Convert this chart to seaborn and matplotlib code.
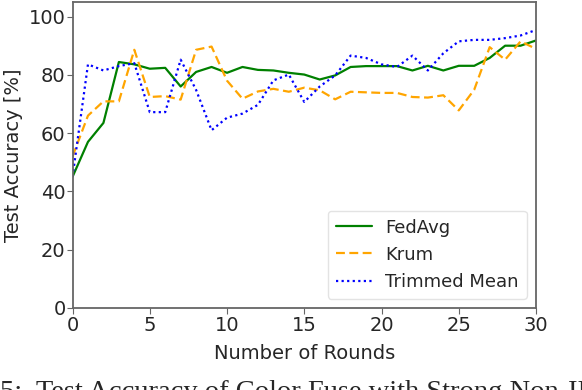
import numpy as np
import pandas as pd
import seaborn as sns
from matplotlib import pyplot as plt

rounds = list(range(31))
fedavg = [45, 57, 63.5, 84.4, 83.6, 82.1, 82.4, 76, 81, 82.7, 80.7, 82.7, 81.7,
          81.5, 80.7, 80.1, 78.4, 79.8, 82.7, 83, 83, 83, 81.5, 83.1, 81.5, 83.1,
          83.1, 85.8, 90, 90, 91.8]
krum = [52, 66, 70.9, 70.9, 88.6, 72.4, 72.7, 71.5, 88.6, 89.7, 78, 71.8, 74.3,
        75.2, 74.2, 75.6, 74.7, 71.6, 74.2, 74, 73.8, 73.8, 72.4, 72.2, 73, 67.8,
        74.9, 89.5, 85.2, 91.5, 88.9]
trimmed = [45, 83.6, 81.5, 83, 84, 67.2, 67.2, 85.2, 74.8, 61, 65.3, 66.7, 69.7,
           78.1, 80.1, 70.7, 76, 79.8, 86.6, 85.8, 83.6, 82.7, 86.6, 81.5, 87.4,
           91.5, 92, 92, 92.6, 93.5, 95.4]
series_names = ['FedAvg', 'Krum', 'Trimmed Mean']

df = pd.DataFrame({
    'round': rounds * 3,
    'acc': fedavg + krum + trimmed,
    'method': [n for n in series_names for _ in rounds],
})

sns.set_style('white')
plt.rcParams['font.family'] = ['DejaVu Sans']

fig = plt.figure(figsize=(5.82, 3.90), dpi=100)
ax = fig.add_axes([0.1246, 0.2103, 0.7964, 0.7846])

palette = {'FedAvg': 'green', 'Krum': 'orange', 'Trimmed Mean': 'blue'}
dashes = {'FedAvg': '', 'Krum': (4, 2), 'Trimmed Mean': (1, 1.5)}
sns.lineplot(data=df, x='round', y='acc', hue='method', style='method',
             palette=palette, dashes=dashes, linewidth=1.6, ax=ax)

ax.set_xlim(0, 30)
ax.set_ylim(0, 105)
ax.set_xticks([0, 5, 10, 15, 20, 25, 30])
ax.set_yticks([0, 20, 40, 60, 80, 100])
ax.tick_params(labelsize=14, length=4, color='#666666', direction='out',
               bottom=True, left=True)
ax.tick_params(axis='x', pad=2)
ax.tick_params(axis='y', pad=1)
for s in ax.spines.values():
    s.set_color('#666666')
    s.set_linewidth(1.3)
ax.set_xlabel('Number of Rounds', fontsize=14, labelpad=6)
ax.set_ylabel('Test Accuracy [%]', fontsize=14, labelpad=4)

leg = ax.legend(loc='lower right', fontsize=13, handlelength=2.0,
                handletextpad=0.75, borderpad=0.45, labelspacing=0.5,
                borderaxespad=0.5)
leg.get_frame().set_edgecolor('#dddddd')

fig.text(0.0, 1 - 380 / 390, '5:  Test Accuracy of Color Fuse with Strong Non-IID',
         fontsize=20.5, family=['Liberation Serif', 'DejaVu Serif'], va='top', ha='left')

fig.savefig('out.png', dpi=100)
